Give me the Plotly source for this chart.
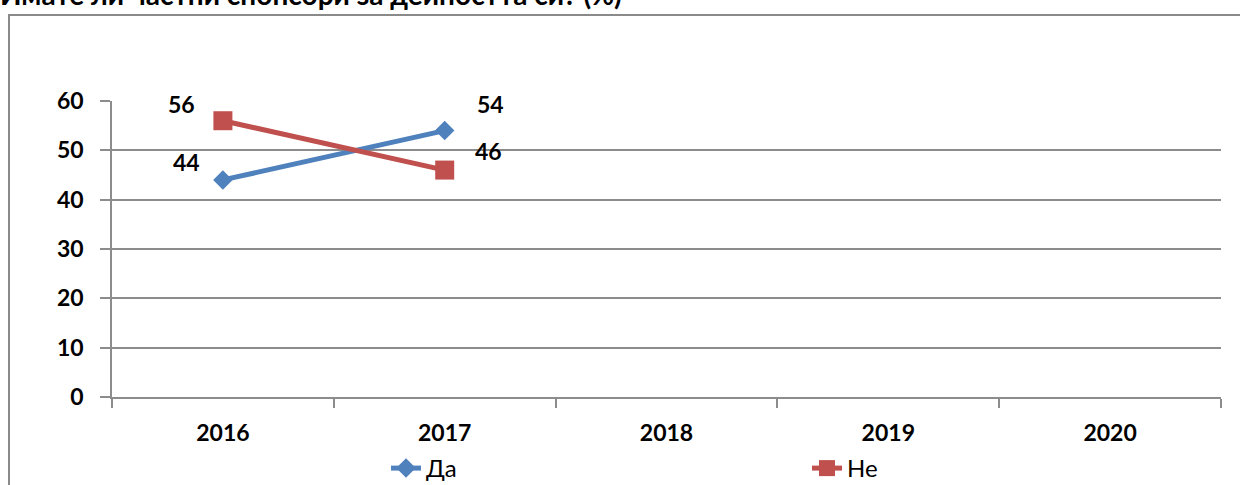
import plotly.graph_objects as go

# Survey answers by year (%)
years = ["2016", "2017", "2018", "2019", "2020"]
yes_vals = [44, 54, None, None, None]
no_vals = [56, 46, None, None, None]
yes_name = "Да"
no_name = "Не"
title_text = "Имате ли частни спонсори за дейността си? (%)"
y_ticks = [0, 10, 20, 30, 40, 50, 60]

BLUE = "#4F81BD"
RED = "#C0504D"
GRID = "#8C8C8C"
FONT = "Lato"

W, H = 1240, 485
L, R, T, B = 112, 19, 101, 88
PW, PH = W - L - R, H - T - B


def px_x(x):
    return (x - L) / PW


def px_y(y):
    return (H - B - y) / PH


fig = go.Figure()
fig.add_trace(go.Scatter(
    x=years, y=yes_vals, name=yes_name, mode="lines+markers",
    line=dict(color=BLUE, width=5),
    marker=dict(symbol="diamond", size=15, color=BLUE),
))
fig.add_trace(go.Scatter(
    x=years, y=no_vals, name=no_name, mode="lines+markers",
    line=dict(color=RED, width=5),
    marker=dict(symbol="square", size=19, color=RED),
))

# value labels beside each point (x given as category index)
label_shift = {
    (yes_name, 0): (-36, 18), (yes_name, 1): (46, 27),
    (no_name, 0): (-41, 17), (no_name, 1): (44, 19),
}
for name, vals in ((yes_name, yes_vals), (no_name, no_vals)):
    for i, v in enumerate(vals):
        if v is None:
            continue
        dx, dy = label_shift[(name, i)]
        fig.add_annotation(
            x=i, y=v, text=str(v), showarrow=False,
            xshift=dx, yshift=dy,
            font=dict(family=FONT, size=23, color="#000000", weight=700),
        )

# chart title (runs off the top edge)
fig.add_annotation(
    xref="paper", yref="paper", x=px_x(-2), y=px_y(13),
    xanchor="left", yanchor="bottom", showarrow=False, text=title_text,
    font=dict(family=FONT, size=28, color="#000000", weight=700),
)

# chart-area frame
fig.add_shape(
    type="rect", xref="paper", yref="paper",
    x0=px_x(9), x1=px_x(1250), y0=px_y(500), y1=px_y(15),
    line=dict(color="#8A8A8A", width=2), layer="below",
)

fig.update_layout(
    width=W, height=H,
    margin=dict(l=L, r=R, t=T, b=B, autoexpand=False),
    paper_bgcolor="white", plot_bgcolor="white",
    font=dict(family=FONT, color="#000000"),
    showlegend=True,
    legend=dict(
        orientation="h", x=px_x(386), y=px_y(491), xanchor="left", yanchor="bottom",
        font=dict(family=FONT, size=24, color="#000000"),
        entrywidth=376, entrywidthmode="pixels",
        itemclick=False, itemdoubleclick=False,
        bgcolor="rgba(0,0,0,0)",
    ),
)
fig.update_xaxes(
    type="category", categoryorder="array", categoryarray=years,
    range=[-0.5, len(years) - 0.5],
    showline=True, linecolor=GRID, linewidth=1.5,
    ticks="outside", tickson="boundaries", ticklen=9, tickcolor=GRID, tickwidth=1.5,
    showgrid=False, ticklabelstandoff=15,
    tickfont=dict(family=FONT, size=23, color="#000000", weight="bold"),
)
fig.update_yaxes(
    range=[0, 60], tickvals=y_ticks, ticktext=[str(t) for t in y_ticks],
    showline=True, linecolor=GRID, linewidth=1.5,
    ticks="outside", ticklen=10, tickcolor=GRID, tickwidth=1.5,
    showgrid=True, gridcolor=GRID, gridwidth=1.5,
    zeroline=False, ticklabelstandoff=12,
    tickfont=dict(family=FONT, size=23, color="#000000", weight="bold"),
)

fig.write_html("out.html")
